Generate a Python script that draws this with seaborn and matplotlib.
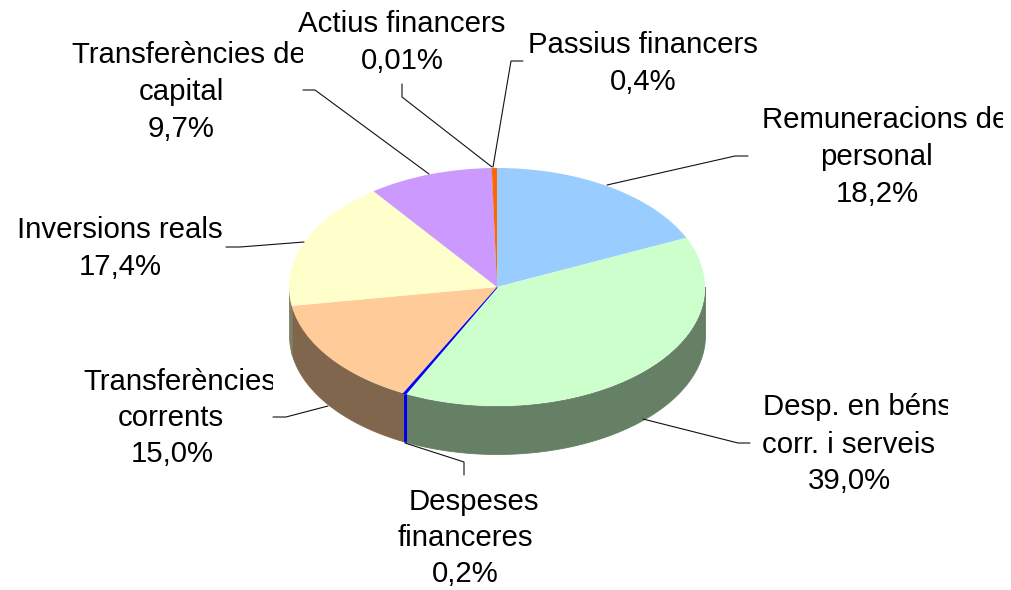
import numpy as np
import matplotlib
matplotlib.use("Agg")
import matplotlib.pyplot as plt
from matplotlib.transforms import Bbox
import seaborn as sns

# values as printed on the chart, clockwise from 12 o'clock
categories = ["Remuneracions de personal", "Desp. en béns corr. i serveis", "Despeses financeres",
              "Transferències corrents", "Inversions reals", "Transferències de capital",
              "Actius financers", "Passius financers"]
values = [18.2, 39.0, 0.2, 15.0, 17.4, 9.7, 0.01, 0.4]
top_colors = ["#99CCFF", "#CCFFCC", "#0000FF", "#FFCC99", "#FFFFCC", "#CC99FF", "#003366", "#FF6600"]

# text lines: text, x, baseline y, anchor, clip edge (pixels of the original)
label_lines = [
    ("Remuneracions de", 762, 128, "left", 1003), ("personal", 876, 165, "center", None), ("18,2%", 877, 202, "center", None),
    ("Desp. en béns", 763, 415, "left", 948), ("corr. i serveis", 849, 453, "center", None), ("39,0%", 849, 489, "center", None),
    ("Despeses", 474, 510, "center", None), ("financeres", 465, 546, "center", None), ("0,2%", 465, 582, "center", None),
    ("Transferències", 83, 390, "left", 273), ("corrents", 171, 426, "center", None), ("15,0%", 172, 462, "center", None),
    ("Inversions reals", 120, 238, "center", None), ("17,4%", 120, 275, "center", None),
    ("Transferències de", 72, 63, "left", 303), ("capital", 181, 100, "center", None), ("9,7%", 181, 137, "center", None),
    ("Actius financers", 402, 32, "center", None), ("0,01%", 402, 69, "center", None),
    ("Passius financers", 643, 53, "center", None), ("0,4%", 643, 90, "center", None),
]
# leader lines in pixels
leaders = [([607, 735, 748], [185, 156, 156]), ([643, 738, 750], [419, 443, 443]),
           ([405, 464, 464], [443, 462, 475]), ([328, 286, 273], [406, 417, 417]),
           ([304, 240, 226], [242, 247, 247]), ([429, 315, 303], [174, 90, 90]),
           ([492, 402, 402], [167, 97, 84]), ([493, 511, 523], [167, 61, 61])]

W, H = 1012, 590
CX, CY, RX, RY, DEPTH = 497, 287, 208, 119, 48

sns.set_theme(style="white")
plt.rcParams["font.family"] = ["Liberation Sans", "DejaVu Sans"]

fig = plt.figure(figsize=(W / 100, H / 100), dpi=100)
ax = fig.add_axes([0, 0, 1, 1])

wedges, _ = ax.pie(values, colors=top_colors, startangle=90, counterclock=False, radius=1,
                   wedgeprops={"linewidth": 0})
wedges[2].set_edgecolor("#0000FF")
wedges[2].set_linewidth(1.2)
for w in wedges:
    w.set_zorder(2)

# pie() forces equal aspect, the flat look comes from the limits
ax.set_aspect("auto")
ax.set_xlim(-CX / RX, (W - CX) / RX)
ax.set_ylim(-(H - CY) / RY, CY / RY)

px = lambda a, b: ((np.asarray(a) - CX) / RX, (CY - np.asarray(b)) / RY)

# side wall of the front half, darker shade of each slice
edges = np.cumsum([0] + values) / sum(values) * 360
for i, col in enumerate(top_colors):
    lo, hi = max(edges[i], 90), min(edges[i + 1], 270)
    if lo >= hi:
        continue
    t = np.radians(np.linspace(lo, hi, 80))
    x, y = np.sin(t), np.cos(t)
    if col == "#0000FF":
        ax.plot([x[0], x[0]], [y[0], y[0] - DEPTH / RY], color="#0000E6", lw=2.2, zorder=1.5,
                solid_capstyle="butt")
    else:
        dark = tuple(c * 0.5 for c in matplotlib.colors.to_rgb(col))
        ax.fill_between(x, y, y - DEPTH / RY, color=dark, lw=0.6, zorder=1)

for lx, ly in leaders:
    xs, ys = px(lx, ly)
    ax.plot(xs, ys, color="#111111", lw=0.8, zorder=3, solid_joinstyle="miter")

for text, tx, ty, anchor, clip in label_lines:
    xs, ys = px(tx, ty)
    txt = ax.text(xs, ys, text, ha=anchor, va="baseline", fontsize=21.2, color="black", zorder=4)
    if clip is not None:
        txt.set_clip_on(True)
        txt.set_clip_box(Bbox([[0, 0], [clip, H]]))

fig.savefig("out.png", dpi=100, facecolor="white")
